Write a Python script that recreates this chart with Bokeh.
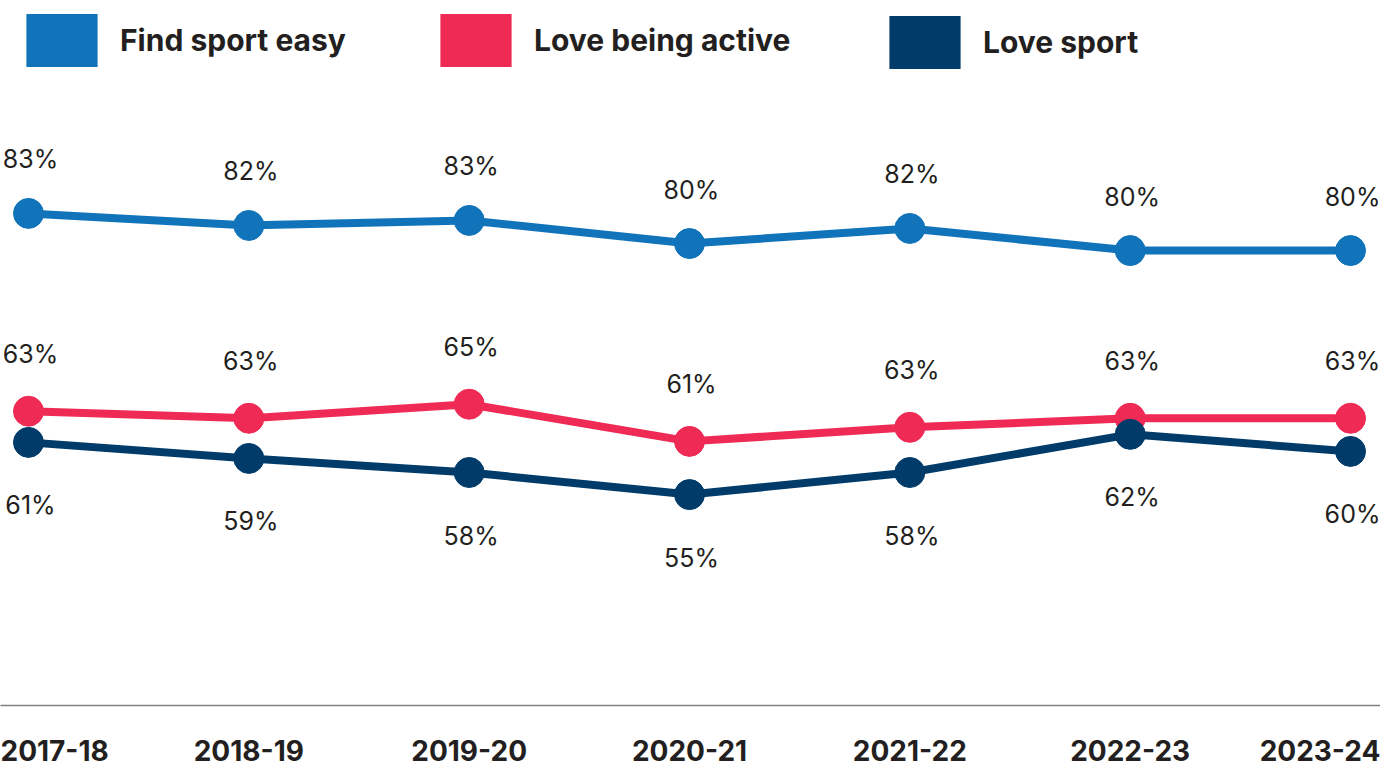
import math
from bokeh.plotting import figure
from bokeh.models import (ColumnDataSource, Range1d, FixedTicker, Legend, LegendItem)
from bokeh.core.properties import value
from bokeh.embed import file_html
from bokeh.resources import INLINE

years = ["2017-18", "2018-19", "2019-20", "2020-21", "2021-22", "2022-23", "2023-24"]
series_names = ["Find sport easy", "Love being active", "Love sport"]
find_sport_easy = [83.0, 81.8, 82.3, 80.0, 81.5, 79.3, 79.3]
love_being_active = [63.3, 62.6, 64.0, 60.3, 61.7, 62.6, 62.6]
love_sport = [60.2, 58.6, 57.2, 55.0, 57.2, 61.0, 59.3]
find_sport_easy_labels = ["83%", "82%", "83%", "80%", "82%", "80%", "80%"]
love_being_active_labels = ["63%", "63%", "65%", "61%", "63%", "63%", "63%"]
love_sport_labels = ["61%", "59%", "58%", "55%", "58%", "62%", "60%"]

colors = ["#1174BB", "#EE2A55", "#003B6A"]
TEXT = "#231F20"
FONT = "Inter"

p = figure(width=1380, height=768, output_backend="svg", toolbar_location=None,
           x_range=Range1d(-0.127, 6.136), y_range=Range1d(34.0, 104.2),
           min_border_left=0, min_border_right=0, min_border_top=0, min_border_bottom=63,
           y_axis_location=None)
p.outline_line_color = None
p.grid.visible = False
p.background_fill_color = "white"

xs = list(range(len(years)))
all_vals = [find_sport_easy, love_being_active, love_sport]
all_labels = [find_sport_easy_labels, love_being_active_labels, love_sport_labels]
offsets = [-54, -57, 63]

swatches = []
for vals, labs, col, off in zip(all_vals, all_labels, colors, offsets):
    src = ColumnDataSource(dict(x=xs, y=vals, t=labs))
    p.line("x", "y", source=src, line_color=col, line_width=8, line_join="round")
    p.scatter("x", "y", source=src, size=30, fill_color=col, line_color=col)
    p.text("x", "y", text="t", source=src, x_offset=2, y_offset=off,
           text_align="center", text_baseline="middle", text_color=TEXT,
           text_font=value(FONT), text_font_size="25px")
    sw = p.quad(left=[math.nan], right=[math.nan], top=[math.nan], bottom=[math.nan],
                fill_color=col, line_color=None)
    swatches.append(sw)

leg_locs = [(17, 632), (431, 632), (880, 630)]
for name, sw, loc in zip(series_names, swatches, leg_locs):
    lg = Legend(items=[LegendItem(label=name, renderers=[sw])], location=loc,
                glyph_width=89, glyph_height=66, label_standoff=14,
                padding=0, margin=0, spacing=0,
                border_line_color=None, background_fill_alpha=0,
                label_text_font=FONT, label_text_font_style="bold",
                label_text_font_size="30px", label_text_color=TEXT,
                label_height=66)
    p.add_layout(lg, "center")

ax = p.xaxis[0]
ax.ticker = FixedTicker(ticks=xs)
ax.major_label_overrides = {i: y for i, y in enumerate(years)}
ax.major_tick_line_color = None
ax.minor_tick_line_color = None
ax.axis_line_color = "#808080"
ax.axis_line_width = 1.5
ax.major_label_standoff = 28
ax.major_label_text_font = FONT
ax.major_label_text_font_style = "bold"
ax.major_label_text_font_size = "28px"
ax.major_label_text_color = TEXT

open("out.html", "w").write(file_html(p, INLINE))
